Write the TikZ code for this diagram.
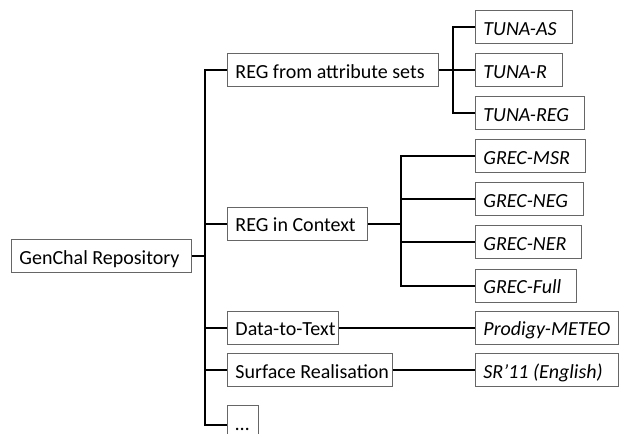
\documentclass[tikz,border=0pt]{standalone}
\usepackage{fontspec}
\setmainfont{Carlito}
\newcommand\boxtxt[2]{\makebox[#1][l]{#2}}
\begin{document}
\begin{tikzpicture}[x=1pt,y=-1pt,
  box/.style={draw=black!60, line width=0.9pt, anchor=west, inner xsep=8pt,
    inner ysep=0pt, minimum height=33pt, text height=17pt, text depth=1pt,
    font=\fontsize{20}{24}\selectfont},
  leaf/.style={box, font=\fontsize{20}{24}\selectfont\itshape},
  link/.style={line width=2pt, black}]
\useasboundingbox (0,0) rectangle (619,434);
% root and first level
\node[box] (root) at (11,256) {\boxtxt{164pt}{GenChal Repository}};
\node[box] (a1) at (227,70) {\boxtxt{195pt}{REG from attribute sets}};
\node[box] (a2) at (227,223.5) {\boxtxt{124pt}{REG in Context}};
\node[box] (a3) at (227,327.5) {\boxtxt{95pt}{Data-to-Text}};
\node[box] (a4) at (227,370) {\boxtxt{149pt}{Surface Realisation}};
\node[box, minimum height=40pt, text depth=6pt] (a5) at (227,425) {\boxtxt{15pt}{…}};
% leaves
\node[leaf] (tas) at (475,27) {\boxtxt{81pt}{TUNA-AS}};
\node[leaf] (tr) at (475,70) {\boxtxt{71pt}{TUNA-R}};
\node[leaf] (treg) at (475,113) {\boxtxt{93pt}{TUNA-REG}};
\node[leaf] (gmsr) at (475,156) {\boxtxt{94pt}{GREC-MSR}};
\node[leaf] (gneg) at (475,199) {\boxtxt{92pt}{GREC-NEG}};
\node[leaf] (gner) at (475,242) {\boxtxt{90pt}{GREC-NER}};
\node[leaf] (gfull) at (475,285.5) {\boxtxt{85pt}{GREC-Full}};
\node[leaf] (prod) at (475,327.5) {\boxtxt{127pt}{Prodigy-METEO}};
\node[leaf] (sr) at (475,370) {\boxtxt{127pt}{SR’11 (English)}};
% branching points
\coordinate (t) at (205,256);
\coordinate (s1) at (453,70);
\coordinate (s2) at (401,223.5);
% connectors
\draw[link] (root.east) -- (t);
\foreach \n in {a1,a2,a3,a4,a5} \draw[link] (t) |- (\n.west);
\draw[link] (a1.east) -- (s1);
\foreach \n in {tas,tr,treg} \draw[link] (s1) |- (\n.west);
\draw[link] (a2.east) -- (s2);
\foreach \n in {gmsr,gneg,gner,gfull} \draw[link] (s2) |- (\n.west);
\draw[link] (a3.east) -- (prod.west);
\draw[link] (a4.east) -- (sr.west);
\end{tikzpicture}
\end{document}
